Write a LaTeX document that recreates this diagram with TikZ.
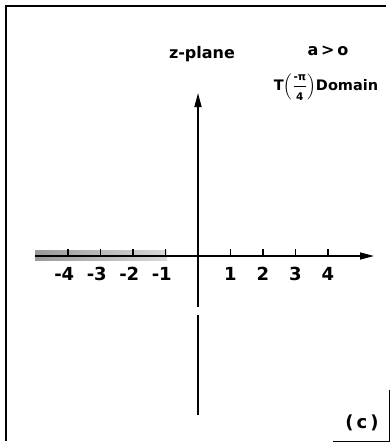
\documentclass[tikz,border=0pt]{standalone}
\usepackage{fontspec}
\setmainfont{DejaVu Sans}
\usepackage{amsmath}
\usetikzlibrary{arrows.meta,positioning}

\begin{document}
\begin{tikzpicture}[x=1pt,y=-1pt,
  axisline/.style={line width=1.5pt},
  axisarrow/.style={axisline,-{Triangle[length=14pt,width=7pt]}},
  tickmark/.style={line width=1.2pt},
  numlbl/.style={font=\bfseries\fontsize{18}{18}\selectfont,inner sep=0pt},
  toplbl/.style={font=\bfseries\fontsize{16}{16}\selectfont,inner sep=0pt},
]
\useasboundingbox (0,0) rectangle (390,442);
% frame
\draw[line width=1.4pt] (6,441) -- (6,6) -- (386,6);
\draw[line width=0.8pt] (389,390) -- (389,441) -- (333,441);
% shaded part of the real axis
\shade[left color=gray!80,right color=gray!30] (35,250) rectangle (167,260);
% axes
\coordinate (xl) at (35,256);
\coordinate (xr) at (374,256);
\coordinate (yt) at (198,93);
\coordinate (yg) at (198,307);
\coordinate (yh) at (198,315);
\coordinate (yb) at (198,415);
\draw[axisarrow] (xl) -- (xr);
\draw[axisarrow] (yg) -- (yt);
\draw[axisline] (yb) -- (yh);
% ticks and numbers
\foreach \x/\lbl in {-4/\llap{-}4,-3/\llap{-}3,-2/\llap{-}2,-1/\llap{-}1,1/1,2/2,3/3,4/4}{
  \draw[tickmark] (198+32.5*\x,256) -- (198+32.5*\x,249);
  \node[numlbl] (n\x) at (198+32.5*\x,274) {\lbl};
}
% labels
\node[toplbl] (zplane) at (202,54) {z-plane};
\node[toplbl] (acond) at (328,51) {a\,>\,o};
\node[toplbl,font=\bfseries\fontsize{14.5}{14.5}\selectfont] (domain) at (326,87)
  {T$\left(\dfrac{\text{\fontsize{10.5}{10.5}\selectfont -π}}{\text{\fontsize{10.5}{10.5}\selectfont 4}}\right)$Domain};
\node[numlbl] (part) at (362,423) {(\,c\,)};
\end{tikzpicture}
\end{document}
